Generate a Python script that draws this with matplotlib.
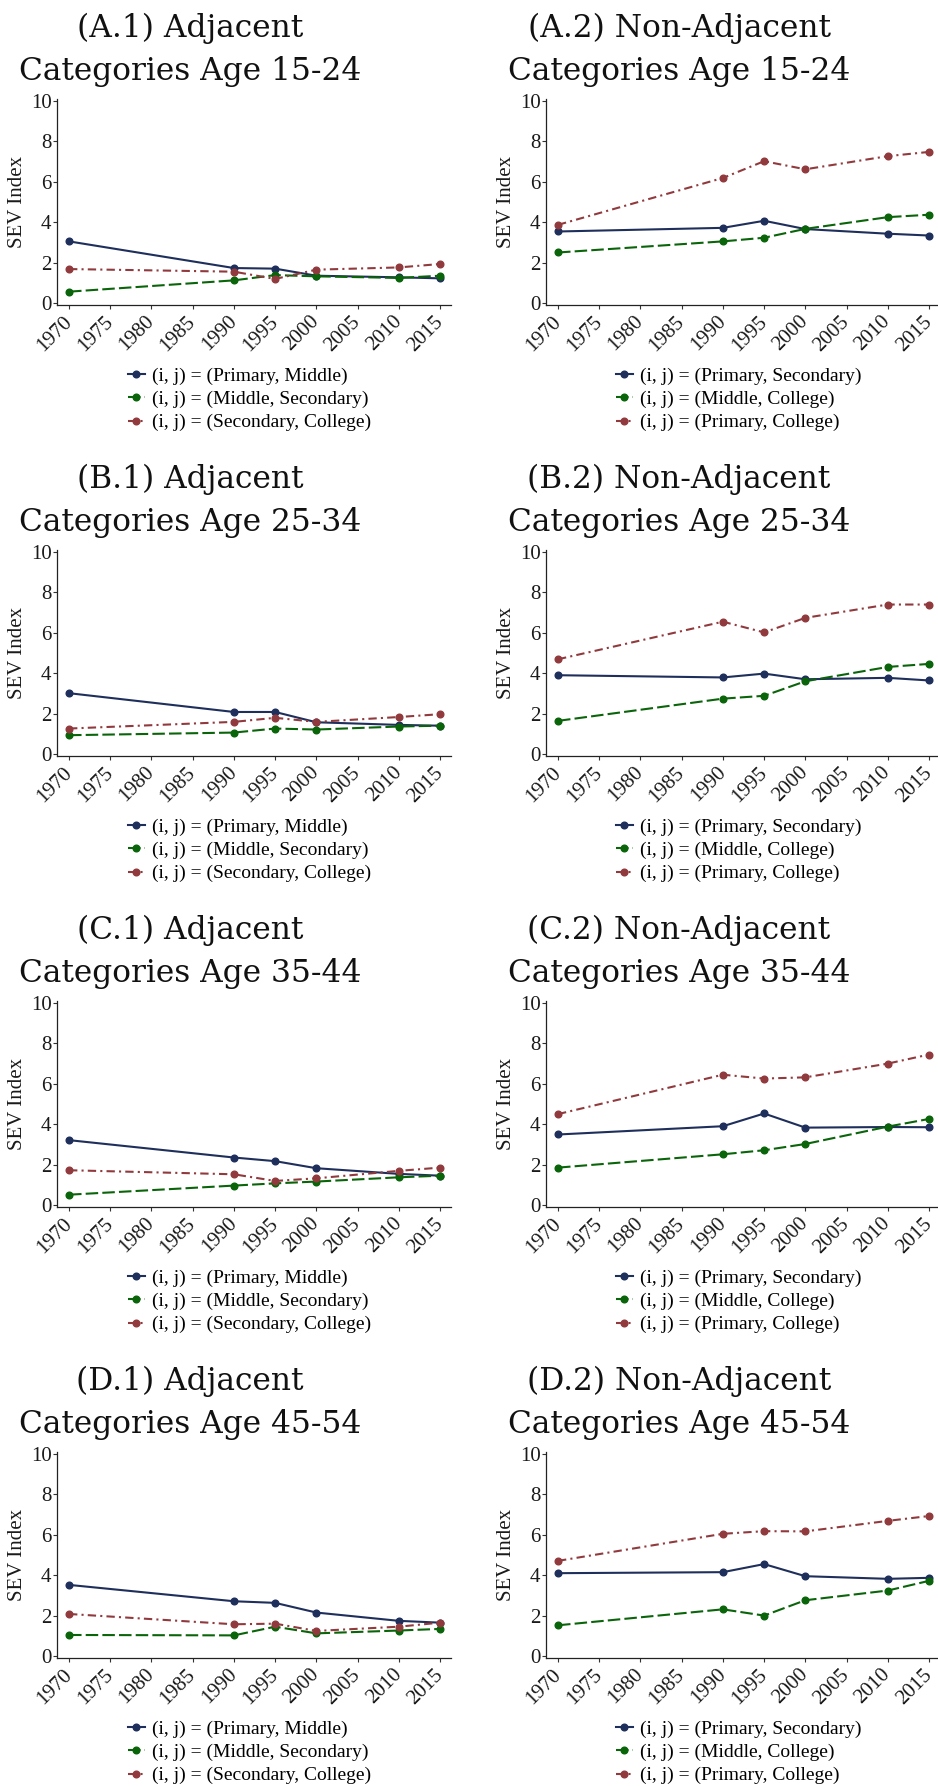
import matplotlib.pyplot as plt

# survey years and axis ticks
years = [1970, 1990, 1995, 2000, 2010, 2015]
xticks = list(range(1970, 2020, 5))
yticks = [0, 2, 4, 6, 8, 10]

ages = ['15-24', '25-34', '35-44', '45-54']
letters = ['A', 'B', 'C', 'D']

adj_labels = ['(i, j) = (Primary, Middle)',
              '(i, j) = (Middle, Secondary)',
              '(i, j) = (Secondary, College)']
nonadj_labels = ['(i, j) = (Primary, Secondary)',
                 '(i, j) = (Middle, College)',
                 '(i, j) = (Primary, College)']

# adjacent categories
a1_primary_middle = [3.05, 1.73, 1.70, 1.35, 1.27, 1.22]
a1_middle_secondary = [0.56, 1.12, 1.38, 1.32, 1.24, 1.35]
a1_secondary_college = [1.68, 1.55, 1.19, 1.65, 1.76, 1.93]

b1_primary_middle = [3.01, 2.08, 2.08, 1.57, 1.44, 1.40]
b1_middle_secondary = [0.93, 1.06, 1.26, 1.21, 1.36, 1.40]
b1_secondary_college = [1.26, 1.59, 1.79, 1.59, 1.83, 1.97]

c1_primary_middle = [3.21, 2.35, 2.17, 1.82, 1.54, 1.45]
c1_middle_secondary = [0.51, 0.96, 1.07, 1.16, 1.37, 1.45]
c1_secondary_college = [1.72, 1.52, 1.19, 1.32, 1.69, 1.85]

d1_primary_middle = [3.52, 2.71, 2.63, 2.15, 1.74, 1.65]
d1_middle_secondary = [1.04, 1.02, 1.45, 1.12, 1.26, 1.34]
d1_secondary_college = [2.08, 1.57, 1.60, 1.24, 1.45, 1.65]

# non-adjacent categories
a2_primary_secondary = [3.54, 3.72, 4.07, 3.66, 3.43, 3.34]
a2_middle_college = [2.50, 3.05, 3.23, 3.67, 4.25, 4.37]
a2_primary_college = [3.87, 6.19, 7.02, 6.62, 7.27, 7.48]

b2_primary_secondary = [3.90, 3.79, 3.98, 3.70, 3.77, 3.64]
b2_middle_college = [1.64, 2.74, 2.88, 3.60, 4.31, 4.46]
b2_primary_college = [4.69, 6.55, 6.02, 6.74, 7.40, 7.40]

c2_primary_secondary = [3.49, 3.90, 4.53, 3.83, 3.86, 3.85]
c2_middle_college = [1.85, 2.51, 2.71, 3.02, 3.88, 4.26]
c2_primary_college = [4.50, 6.45, 6.26, 6.32, 7.00, 7.45]

d2_primary_secondary = [4.10, 4.15, 4.55, 3.95, 3.82, 3.87]
d2_middle_college = [1.52, 2.31, 2.00, 2.76, 3.24, 3.72]
d2_primary_college = [4.71, 6.05, 6.18, 6.17, 6.69, 6.93]

adjacent = [
    [a1_primary_middle, a1_middle_secondary, a1_secondary_college],
    [b1_primary_middle, b1_middle_secondary, b1_secondary_college],
    [c1_primary_middle, c1_middle_secondary, c1_secondary_college],
    [d1_primary_middle, d1_middle_secondary, d1_secondary_college],
]
non_adjacent = [
    [a2_primary_secondary, a2_middle_college, a2_primary_college],
    [b2_primary_secondary, b2_middle_college, b2_primary_college],
    [c2_primary_secondary, c2_middle_college, c2_primary_college],
    [d2_primary_secondary, d2_middle_college, d2_primary_college],
]

colors = ['#1f2f5c', '#0a640a', '#913a3e']
styles = ['-', (0, (6, 2)), (0, (4, 2, 1, 2))]

W, H = 938, 1786
fig = plt.figure(figsize=(W / 100, H / 100), dpi=100)
serif = 'Liberation Serif'
ink = '#1a1a1a'

for r in range(4):
    for c in range(2):
        top = 99 + 451 * r
        height = 206
        if c == 0:
            left, width, xlim = 57, 394, (1968.54, 2016.33)
            series, labels = adjacent[r], adj_labels
            title = '(%s.1) Adjacent\nCategories Age %s' % (letters[r], ages[r])
        else:
            left, width, xlim = 546, 391, (1968.54, 2015.97)
            series, labels = non_adjacent[r], nonadj_labels
            title = '(%s.2) Non-Adjacent\nCategories Age %s' % (letters[r], ages[r])

        ax = fig.add_axes([left / W, 1 - (top + height) / H, width / W, height / H])
        handles = []
        for vals, col, ls in zip(series, colors, styles):
            h, = ax.plot(years, vals, color=col, linestyle=ls, linewidth=1.5,
                         marker='o', markersize=4.8)
            handles.append(h)

        ax.set_xlim(*xlim)
        ax.set_ylim(-0.1, 10.1)
        ax.set_xticks(xticks)
        ax.set_yticks(yticks)
        ax.set_xticklabels([str(t) for t in xticks], rotation=45, ha='right',
                           va='center', rotation_mode='anchor', family=serif,
                           fontsize=15, color=ink)
        ax.set_yticklabels([str(t) for t in yticks], family=serif,
                           fontsize=15, color=ink)
        ax.tick_params(length=3, width=0.8, color='#333333', pad=1)
        ax.tick_params(axis='x', pad=7)
        for s in ['top', 'right']:
            ax.spines[s].set_visible(False)
        for s in ['left', 'bottom']:
            ax.spines[s].set_linewidth(0.9)
            ax.spines[s].set_color('#222222')

        ax.set_ylabel('SEV Index', family=serif, fontsize=15, color=ink)
        ax.yaxis.set_label_coords(-30 / width, 0.5)

        fig.text((left + 133) / W, 1 - (50 + 451 * r) / H, title,
                 ha='center', va='center', fontsize=22.5, family='DejaVu Serif',
                 linespacing=1.5, color='#111111')

        leg_x = 128 if c == 0 else 616
        ax.legend(handles, labels, loc='center left',
                  bbox_to_anchor=(leg_x / W, 1 - (399.5 + 451 * r) / H),
                  bbox_transform=fig.transFigure, frameon=False,
                  borderpad=0, borderaxespad=0, handlelength=0.85,
                  handletextpad=0.4, labelspacing=0.28,
                  prop={'family': serif, 'size': 14})

fig.savefig('out.png', dpi=100, facecolor='white')
